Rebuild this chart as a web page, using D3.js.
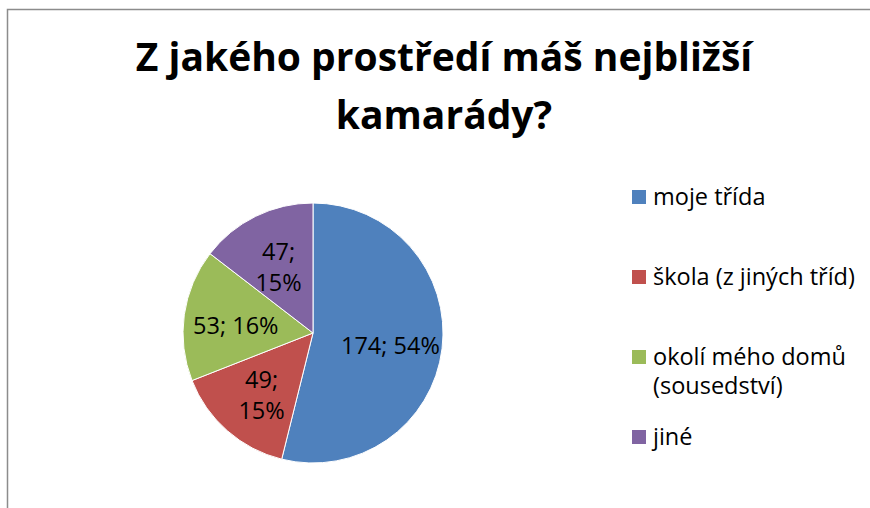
<!DOCTYPE html>
<html>
<head>
<meta charset="utf-8">
<script src="https://cdn.jsdelivr.net/npm/d3@7"></script>
<style>
  body { margin: 0; background: #fff; }
  svg { display: block; font-family: "Open Sans", sans-serif; }
</style>
</head>
<body>
<div id="chart"></div>
<script>
const categories = ["moje třída", "škola (z jiných tříd)", "okolí mého domů (sousedství)", "jiné"];
const legendLines = [["moje třída"], ["škola (z jiných tříd)"], ["okolí mého domů", "(sousedství)"], ["jiné"]];
const values = [174, 49, 53, 47];
const colors = ["#4F81BD", "#C0504D", "#9BBB59", "#8064A2"];
const titleLines = ["Z jakého prostředí máš nejbližší", "kamarády?"];
const wrapLabel = [false, true, false, true];

const width = 870;
const height = 508;

const svg = d3.select("#chart").append("svg")
  .attr("width", width)
  .attr("height", height);

// chart area border (only top and left visible)
svg.append("path")
  .attr("d", `M7.5,${height} V9.5 H${width}`)
  .attr("fill", "none")
  .attr("stroke", "#8c8c8c")
  .attr("stroke-width", 1.5);

// title
svg.append("g")
  .selectAll("text")
  .data(titleLines)
  .join("text")
  .attr("x", 444)
  .attr("y", (d, i) => 71 + i * 58)
  .attr("text-anchor", "middle")
  .style("font-size", "39px")
  .style("font-weight", "bold")
  .text(d => d);

const total = d3.sum(values);
const pctFormat = d3.format(".0%");

const pie = d3.pie().sort(null).value(d => d.value);
const data = categories.map((c, i) => ({ name: c, value: values[i], color: colors[i], wrap: wrapLabel[i] }));
const arcs = pie(data);

const radius = 130;
const arc = d3.arc().innerRadius(0).outerRadius(radius);
const labelArc = d3.arc().innerRadius(radius * 0.6).outerRadius(radius * 0.6);

const pieG = svg.append("g")
  .attr("transform", "translate(313,333)");

pieG.selectAll("path")
  .data(arcs)
  .join("path")
  .attr("d", arc)
  .attr("fill", d => d.data.color)
  .attr("stroke", "#fff")
  .attr("stroke-width", 1);

pieG.selectAll("text")
  .data(arcs)
  .join("text")
  .attr("transform", d => `translate(${labelArc.centroid(d)})`)
  .attr("text-anchor", "middle")
  .style("font-size", "23.5px")
  .each(function(d) {
    const label = `${d.data.value}; ${pctFormat(d.data.value / total)}`;
    const lines = d.data.wrap ? label.split(" ") : [label];
    const t = d3.select(this);
    lines.forEach((l, i) => {
      t.append("tspan")
        .attr("x", 0)
        .attr("y", (i - (lines.length - 1) / 2) * 31 + 12)
        .text(l);
    });
  });

// legend
const ly = d3.scalePoint()
  .domain(categories)
  .range([197, 437]);

const legend = svg.append("g");

categories.forEach((c, i) => {
  const g = legend.append("g")
    .attr("transform", `translate(632, ${ly(c)})`);

  g.append("rect")
    .attr("x", 0)
    .attr("y", -7)
    .attr("width", 14)
    .attr("height", 14)
    .attr("fill", colors[i]);

  legendLines[i].forEach((l, j) => {
    g.append("text")
      .attr("x", 21)
      .attr("y", 8 + j * 29)
      .style("font-size", "23.5px")
      .text(l);
  });
});
</script>
</body>
</html>
